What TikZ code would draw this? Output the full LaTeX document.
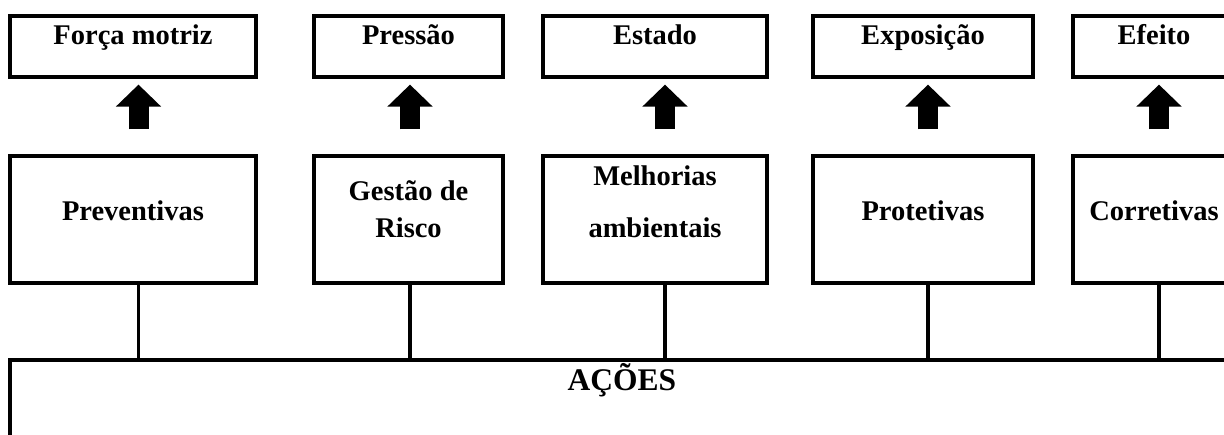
\documentclass[tikz,border=0pt]{standalone}
\usepackage{fontspec}
\setmainfont{Liberation Serif}
\usetikzlibrary{arrows.meta}

\begin{document}
\begin{tikzpicture}[x=1pt, y=-1pt,
    box/.style={rectangle, draw, line width=3.2pt, inner sep=0pt,
      font=\bfseries\fontsize{28.5}{34}\selectfont, text height=20pt},
    topbox/.style={box, minimum height=61pt, text depth=25pt},
    midbox/.style={box, minimum height=127pt, text depth=19pt},
    blockup/.style={line width=20pt, -{Triangle[length=22pt, width=44pt]},
      shorten <=25pt, shorten >=6pt},
    link/.style={line width=3.2pt}]
    \clip (0,0) rectangle (1224,434);

    % Top row
    \node (forca) [topbox, minimum width=246pt] at (133,46.5) {Força motriz};
    \node (pressao) [topbox, minimum width=189pt] at (408.5,46.5) {Pressão};
    \node (estado) [topbox, minimum width=224pt] at (655,46.5) {Estado};
    \node (exposicao) [topbox, minimum width=220pt] at (923,46.5) {Exposição};
    \node (efeito) [topbox, minimum width=162pt] at (1154,46.5) {Efeito};

    % Middle row
    \node (prev) [midbox, minimum width=246pt] at (133,219.5) {Preventivas};
    \node (gestao) [midbox, minimum width=189pt, text depth=59pt] at (408.5,219.5)
      {\begin{tabular}[t]{@{}c@{}}Gestão de\\[3pt]Risco\end{tabular}};
    \node (melhorias) [midbox, minimum width=224pt, text depth=89pt] at (655,219.5)
      {\begin{tabular}[t]{@{}c@{}}Melhorias\\[18pt]ambientais\end{tabular}};
    \node (protetivas) [midbox, minimum width=220pt] at (923,219.5) {Protetivas};
    \node (corretivas) [midbox, minimum width=162pt] at (1154,219.5) {Corretivas};

    % Bottom
    \node (acoes) [box, minimum width=1224pt, minimum height=100pt, text depth=60pt,
      font=\bfseries\fontsize{31.5}{36}\selectfont] at (622,410) {AÇÕES};

    % Columns
    \coordinate (c1) at (138.5,0);
    \coordinate (c2) at (410,0);
    \coordinate (c3) at (665,0);
    \coordinate (c4) at (928,0);
    \coordinate (c5) at (1159,0);

    % Arrows
    \draw[blockup] (prev.north -| c1) -- (forca.south -| c1);
    \draw[blockup] (gestao.north -| c2) -- (pressao.south -| c2);
    \draw[blockup] (melhorias.north -| c3) -- (estado.south -| c3);
    \draw[blockup] (protetivas.north -| c4) -- (exposicao.south -| c4);
    \draw[blockup] (corretivas.north -| c5) -- (efeito.south -| c5);

    % Links
    \draw[link] (prev.south -| c1) -- (acoes.north -| c1);
    \draw[link] (gestao.south -| c2) -- (acoes.north -| c2);
    \draw[link] (melhorias.south -| c3) -- (acoes.north -| c3);
    \draw[link] (protetivas.south -| c4) -- (acoes.north -| c4);
    \draw[link] (corretivas.south -| c5) -- (acoes.north -| c5);
\end{tikzpicture}
\end{document}
